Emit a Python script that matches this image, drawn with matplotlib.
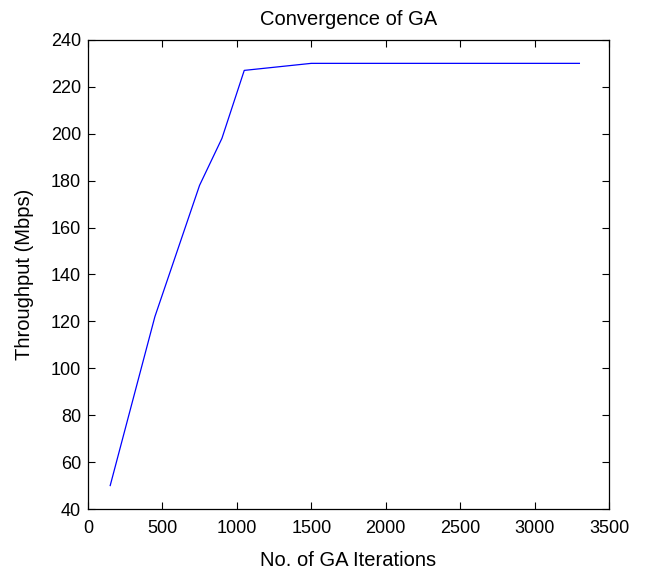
import matplotlib
matplotlib.use("Agg")
import matplotlib.pyplot as plt

iterations = [150, 450, 750, 900, 1050, 1500, 3300]
throughput = [50, 122, 178, 198, 227, 230, 230]

plt.rcParams['font.family'] = ['Liberation Sans', 'DejaVu Sans']

fig = plt.figure(figsize=(6.46, 5.70), dpi=100)
ax = fig.add_axes([0.136, 0.107, 0.807, 0.823])
ax.plot(iterations, throughput, color='blue', linewidth=0.9)

ax.set_xlim(0, 3500)
ax.set_ylim(40, 240)
ax.set_xticks(range(0, 3501, 500))
ax.set_yticks(range(40, 241, 20))
ax.tick_params(direction='in', top=True, right=True, labelsize=13, length=5, width=0.8)
ax.tick_params(axis='x', pad=8)
ax.tick_params(axis='y', pad=5)
for s in ax.spines.values():
    s.set_linewidth(0.9)

ax.set_title("Convergence of GA", fontsize=14.5, pad=11)
ax.set_xlabel("No. of GA Iterations", fontsize=14.5, labelpad=10)
ax.set_ylabel("Throughput (Mbps)", fontsize=14.5, labelpad=12)

fig.savefig("out.png", dpi=100)
